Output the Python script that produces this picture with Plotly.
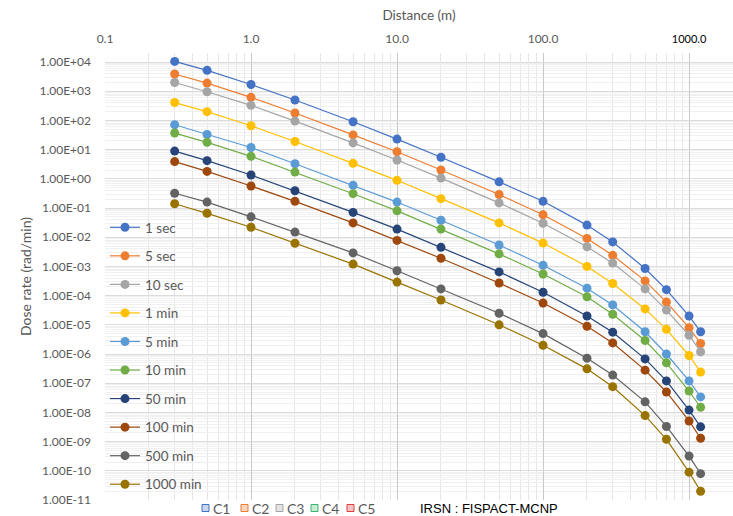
import plotly.graph_objects as go

distance = [0.3, 0.5, 1, 2, 5, 10, 20, 50, 100, 200, 300, 500, 700, 1000, 1200]

series_names = ["1 sec", "5 sec", "10 sec", "1 min", "5 min", "10 min",
                "50 min", "100 min", "500 min", "1000 min"]

dose_1sec = [1.05e4, 5.2e3, 1.7e3, 5.0e2, 90, 23, 5.5, 0.79, 0.17, 0.026, 6.9e-3, 8.5e-4, 1.6e-4, 2.0e-5, 5.8e-6]
dose_5sec = [3.9e3, 1.9e3, 6.2e2, 1.8e2, 32, 8.5, 2.0, 0.29, 0.059, 9.1e-3, 2.4e-3, 3.2e-4, 6.0e-5, 8.0e-6, 2.3e-6]
dose_10sec = [2.0e3, 9.6e2, 3.3e2, 95, 17, 4.4, 1.06, 0.15, 0.030, 4.7e-3, 1.3e-3, 1.7e-4, 3.2e-5, 4.4e-6, 1.2e-6]
dose_1min = [4.1e2, 2.0e2, 66, 19, 3.4, 0.89, 0.21, 0.031, 6.3e-3, 1.0e-3, 2.6e-4, 3.5e-5, 7.0e-6, 8.9e-7, 2.4e-7]
dose_5min = [71, 33, 11.8, 3.3, 0.60, 0.16, 0.038, 5.4e-3, 1.1e-3, 1.8e-4, 4.8e-5, 5.8e-6, 1.0e-6, 1.2e-7, 3.4e-8]
dose_10min = [37, 17.8, 5.9, 1.7, 0.31, 0.080, 0.019, 2.7e-3, 5.5e-4, 9.1e-5, 2.3e-5, 2.9e-6, 5.0e-7, 5.4e-8, 1.5e-8]
dose_50min = [8.9, 4.2, 1.35, 0.39, 0.071, 0.019, 4.5e-3, 6.5e-4, 1.3e-4, 2.0e-5, 5.6e-6, 6.8e-7, 1.2e-7, 1.2e-8, 3.2e-9]
dose_100min = [3.9, 1.8, 0.57, 0.17, 0.031, 7.8e-3, 1.9e-3, 2.7e-4, 5.6e-5, 8.9e-6, 2.4e-6, 2.8e-7, 5.0e-8, 5.1e-9, 1.3e-9]
dose_500min = [0.32, 0.16, 0.050, 0.015, 2.9e-3, 7.1e-4, 1.7e-4, 2.5e-5, 5.0e-6, 7.2e-7, 1.9e-7, 2.3e-8, 3.3e-9, 3.2e-10, 8.0e-11]
dose_1000min = [0.14, 0.066, 0.022, 6.2e-3, 1.2e-3, 2.9e-4, 7.1e-5, 1.0e-5, 2.0e-6, 3.1e-7, 7.6e-8, 7.8e-9, 1.2e-9, 9.0e-11, 2.0e-11]

all_series = [dose_1sec, dose_5sec, dose_10sec, dose_1min, dose_5min, dose_10min,
              dose_50min, dose_100min, dose_500min, dose_1000min]

colors = ["#4472C4", "#ED7D31", "#A5A5A5", "#FFC000", "#5B9BD5", "#70AD47",
          "#264478", "#9E480E", "#636363", "#997300"]

x_tickvals = [0.1, 1, 10, 100, 1000]
x_ticktext = ["0.1", "1.0", "10.0", "100.0",
              '<span style="color:#000000;font-size:11px">1000.0</span>']

y_exponents = list(range(4, -12, -1))
y_tickvals = [10.0 ** e for e in y_exponents]
y_ticktext = ["1.00E%s%02d" % ("+" if e >= 0 else "-", abs(e)) for e in y_exponents]

bottom_labels = ["C1", "C2", "C3", "C4", "C5"]
bottom_colors = ["#4472C4", "#ED7D31", "#A5A5A5", "#3CB371", "#E03C3C"]
bottom_fills = ["#C9D6EF", "#F8D5BE", "#E3E3E3", "#C6ECD4", "#F6C4C4"]
credit_text = "IRSN : FISPACT-MCNP"

fig = go.Figure()
for name, vals, col in zip(series_names, all_series, colors):
    fig.add_trace(go.Scatter(
        x=distance, y=vals, name=name, mode="lines+markers",
        line=dict(color=col, width=1.2),
        marker=dict(color=col, size=9, line=dict(width=0)),
        legendgroup=name,
    ))

L, R, T, B = 105, 0, 53, 16
W, H = 733, 516
pw = W - L - R
ph = H - T - B

fig.update_layout(
    width=W, height=H,
    margin=dict(l=L, r=R, t=T, b=B, pad=0),
    paper_bgcolor="white", plot_bgcolor="white",
    font=dict(family="Lato, Open Sans, sans-serif", color="#595959", size=12),
    showlegend=True,
    legend=dict(
        x=0.0, y=(500 - 212) / ph, xanchor="left", yanchor="top",
        bgcolor="rgba(0,0,0,0)", font=dict(size=13.5, color="#595959"),
        tracegroupgap=8, itemwidth=30,
    ),
    xaxis=dict(
        type="log", side="top", range=[-1, 3.301],
        tickvals=x_tickvals, ticktext=x_ticktext,
        showgrid=True, gridcolor="#C8C8C8", gridwidth=1,
        minor=dict(dtick="D1", showgrid=True, gridcolor="#E6E6E6", ticks=""),
        ticks="", zeroline=False, showline=False,
        ticklabelstandoff=7,
        title=dict(text="Distance (m)", font=dict(size=13.5, color="#595959"), standoff=6),
        tickfont=dict(size=12, color="#595959"),
    ),
    yaxis=dict(
        type="log", range=[-11, 4.31],
        tickvals=y_tickvals, ticktext=y_ticktext,
        showgrid=True, gridcolor="#DCDCDC", gridwidth=1,
        minor=dict(dtick="D1", showgrid=True, gridcolor="#F0F0F0", ticks=""),
        ticks="", zeroline=False, showline=False,
        ticklabelstandoff=13,
        title=dict(text="Dose rate (rad/min)", font=dict(size=14, color="#595959"), standoff=4),
        tickfont=dict(size=12, color="#595959"),
    ),
)

sq_px = [202, 241, 276, 311, 347]
y_center_px = 508
for lab, px, bc, fc in zip(bottom_labels, sq_px, bottom_colors, bottom_fills):
    x0 = (px - L) / pw
    x1 = (px + 7 - L) / pw
    y0 = (H - B - (y_center_px + 3.5)) / ph
    y1 = (H - B - (y_center_px - 3.5)) / ph
    fig.add_shape(type="rect", xref="paper", yref="paper", x0=x0, x1=x1, y0=y0, y1=y1,
                  line=dict(color=bc, width=1), fillcolor=fc, layer="above")
    fig.add_annotation(xref="paper", yref="paper", x=(px + 9 - L) / pw,
                       y=(H - B - y_center_px) / ph, text=lab, showarrow=False,
                       xanchor="left", yanchor="middle",
                       font=dict(size=14, color="#595959", family="Lato, sans-serif"))

fig.add_annotation(xref="paper", yref="paper", x=(418 - L) / pw,
                   y=(H - B - y_center_px) / ph, text=credit_text, showarrow=False,
                   xanchor="left", yanchor="middle",
                   font=dict(size=13, color="#000000", family="Liberation Sans, Arial, sans-serif"))

fig.write_html("out.html")
